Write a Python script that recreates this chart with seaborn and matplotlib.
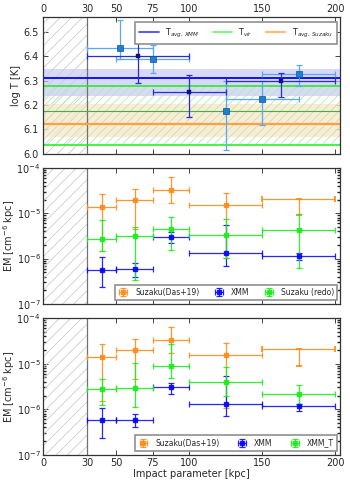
import numpy as np
import pandas as pd
import matplotlib
matplotlib.use("Agg")
import matplotlib.pyplot as plt
import seaborn as sns

# ---------------- data ----------------
# top panel: temperatures
xmm_x = [65, 100, 162.5]
xmm_xlo = [30, 75, 125]
xmm_xhi = [100, 125, 200]
xmm_T = [6.400, 6.253, 6.297]
xmm_Tlo = [6.290, 6.153, 6.233]
xmm_Thi = [6.520, 6.322, 6.332]

lb_x = [52.5, 75, 125, 150, 175]
lb_xlo = [30, 50, 125, 125, 150]
lb_xhi = [75, 100, 125, 175, 200]
lb_T = [6.433, 6.387, 6.174, 6.225, 6.326]
lb_Tlo = [6.390, 6.332, 6.016, 6.119, 6.279]
lb_Thi = [6.548, 6.445, 6.300, 6.300, 6.364]

T_avg_xmm = 6.312
T_avg_xmm_band = (6.235, 6.349)
T_vir_lines = (6.038, 6.278)
T_vir_mid = 6.174
T_avg_suz = 6.123
T_avg_suz_band = (6.068, 6.205)

# EM panels
em_x = [40, 62.5, 87.5, 125, 175]
em_xlo = [30, 50, 75, 100, 150]
em_xhi = [50, 75, 100, 150, 200]

suz_em = [1.38e-5, 1.97e-5, 3.33e-5, 1.53e-5, 2.1e-5]
suz_lo = [1.5e-6, 4.5e-6, 1.72e-5, 1.05e-6, 9.0e-6]
suz_hi = [2.63e-5, 3.38e-5, 6.2e-5, 2.85e-5, 2.1e-5]

xmm_em = [5.7e-7, 5.9e-7, 3.0e-6, 1.33e-6, 1.15e-6]
xmm_lo = [2.4e-7, 4.0e-7, 2.2e-6, 7.0e-7, 9.3e-7]
xmm_hi = [1.07e-6, 7.9e-7, 3.8e-6, 5.4e-6, 1.32e-6]

redo_em = [2.67e-6, 3.2e-6, 4.43e-6, 3.27e-6, 4.28e-6]
redo_lo = [1.45e-6, 3.4e-7, 1.55e-6, 1.05e-6, 6.1e-7]
redo_hi = [7.0e-6, 5.1e-6, 8.2e-6, 7.4e-6, 9.8e-6]

xmmT_em = [2.79e-6, 2.88e-6, 8.75e-6, 4.03e-6, 2.13e-6]
xmmT_lo = [1.25e-6, 1.1e-6, 4.8e-6, 2.0e-6, 1.29e-6]
xmmT_hi = [4.6e-6, 1.02e-5, 2.65e-5, 8.3e-6, 3.36e-6]

xticks = [0, 30, 50, 75, 100, 150, 200]
em_ticks = [1e-7, 1e-6, 1e-5, 1e-4]
em_ticklabels = [r"10$^{-7}$", r"10$^{-6}$", r"10$^{-5}$", r"10$^{-4}$"]

# ---------------- style ----------------
sns.set_theme(style="ticks")
plt.rcParams.update({
    "font.family": ["DejaVu Sans"],
    "font.size": 6.5,
    "xtick.direction": "in",
    "ytick.direction": "in",
    "xtick.top": True,
    "ytick.right": True,
    "xtick.major.size": 3.5,
    "ytick.major.size": 3.5,
    "xtick.minor.size": 2,
    "ytick.minor.size": 2,
    "xtick.major.width": 0.6,
    "ytick.major.width": 0.6,
    "axes.linewidth": 0.9,
    "axes.edgecolor": "#333333",
    "hatch.linewidth": 0.6,
    "xtick.labelsize": 7,
    "ytick.labelsize": 7,
    "mathtext.default": "regular",
})

C_ORANGE = "#ff8c1a"
C_BLUE = "#0000ff"
C_GREEN = "#1aee1a"
C_LB = "#5aa8f5"
C_DB = "#2a2ad8"

fig = plt.figure(figsize=(3.5, 4.87), dpi=100)
L, W = 0.124, 0.847
ax1 = fig.add_axes([L, 0.684, W, 0.281])
ax2 = fig.add_axes([L, 0.376, W, 0.279])
ax3 = fig.add_axes([L, 0.066, W, 0.281])
XMAX = 203

def asym(v, lo, hi):
    v = np.asarray(v, float)
    return [v - np.asarray(lo, float), np.asarray(hi, float) - v]

def excl(ax):
    ax.axvspan(0, 30, facecolor="none", edgecolor="#cccccc", hatch="///", lw=0)
    ax.axvline(30, color="#707070", lw=0.9)
    ax.set_xlim(0, XMAX)
    ax.set_xticks(xticks)

# ---------------- top panel ----------------
excl(ax1)
ax1.axhspan(*T_avg_xmm_band, color="#c8c8f5", alpha=0.7, lw=0)
ax1.axhspan(*T_avg_suz_band, color="#fde6cf", alpha=0.8, lw=0)
ax1.axhspan(T_vir_lines[0], T_vir_lines[1], facecolor="none", edgecolor="#b0eca8",
            hatch="////", lw=0)
ax1.axhline(T_avg_xmm, color=C_BLUE, lw=1.3, label=r"T$_{\mathit{avg,\,XMM}}$")
ax1.axhline(T_vir_lines[1], color=C_GREEN, lw=1.1, label=r"T$_{\mathit{vir}}$")
ax1.axhline(T_vir_lines[0], color=C_GREEN, lw=1.1)
ax1.axhline(T_vir_mid, color="#40b040", lw=0.8)
ax1.axhline(T_avg_suz, color="#ffa040", lw=1.6, label=r"T$_{\mathit{avg,\,Suzaku}}$")

ax1.errorbar(lb_x, lb_T, yerr=asym(lb_T, lb_Tlo, lb_Thi),
             xerr=asym(lb_x, lb_xlo, lb_xhi), fmt="none", ecolor=C_LB,
             elinewidth=0.9, capsize=2, capthick=0.9)
ax1.errorbar(xmm_x, xmm_T, yerr=asym(xmm_T, xmm_Tlo, xmm_Thi),
             xerr=asym(xmm_x, xmm_xlo, xmm_xhi), fmt="none", ecolor=C_DB,
             elinewidth=0.9, capsize=2, capthick=0.9)
sns.scatterplot(x=lb_x, y=lb_T, ax=ax1, marker="s", s=14, color="#2080d0",
                edgecolor="#1050a0", linewidth=0.5, zorder=5, legend=False)
sns.scatterplot(x=xmm_x, y=xmm_T, ax=ax1, marker="s", s=6, color="#101080",
                edgecolor="#101080", linewidth=0.3, zorder=5, legend=False)

ax1.set_ylim(6.0, 6.56)
ax1.set_yticks([6.0, 6.1, 6.2, 6.3, 6.4, 6.5])
ax1.set_yticklabels(["6.0", "6.1", "6.2", "6.3", "6.4", "6.5"])
ax1.xaxis.set_label_position("top")
ax1.tick_params(axis="x", labeltop=True, labelbottom=False, pad=2)
ax1.set_ylabel("log T [K]", fontsize=7)
ax1.yaxis.set_label_coords(-0.075, 0.5)
leg1 = ax1.legend(loc="upper right", ncol=3, fontsize=5.8, frameon=True,
                  fancybox=False, edgecolor="#909090", framealpha=1,
                  handlelength=2.4, columnspacing=1.6, borderpad=0.5,
                  bbox_to_anchor=(0.995, 0.975), borderaxespad=0.2)
leg1.get_frame().set_linewidth(1.2)
for h in leg1.get_lines():
    h.set_alpha(0.7)

# ---------------- EM panels ----------------
def em_panel(ax, green_em, green_lo, green_hi, green_label):
    excl(ax)
    e1 = ax.errorbar(em_x[:4], suz_em[:4], yerr=asym(suz_em[:4], suz_lo[:4], suz_hi[:4]),
                     xerr=asym(em_x[:4], em_xlo[:4], em_xhi[:4]), fmt="s", ms=2.8,
                     color=C_ORANGE, ecolor=C_ORANGE, elinewidth=0.9, capsize=2,
                     capthick=0.9, label="Suzaku(Das+19)", alpha=0.9)
    ax.errorbar(em_x[4:], suz_em[4:], yerr=asym(suz_em[4:], suz_lo[4:], suz_hi[4:]),
                xerr=asym(em_x[4:], em_xlo[4:], em_xhi[4:]), fmt="none",
                ecolor=C_ORANGE, elinewidth=0.9, capsize=2, capthick=1.4, alpha=0.9)
    e2 = ax.errorbar(em_x, xmm_em, yerr=asym(xmm_em, xmm_lo, xmm_hi),
                     xerr=asym(em_x, em_xlo, em_xhi), fmt="s", ms=2.8,
                     color=C_BLUE, ecolor=C_BLUE, elinewidth=0.9, capsize=2,
                     capthick=0.9, label="XMM", alpha=0.85)
    e3 = ax.errorbar(em_x, green_em, yerr=asym(green_em, green_lo, green_hi),
                     xerr=asym(em_x, em_xlo, em_xhi), fmt="s", ms=2.8,
                     color=C_GREEN, ecolor=C_GREEN, elinewidth=0.9, capsize=2,
                     capthick=0.9, label=green_label, alpha=0.9)
    ax.set_yscale("log")
    ax.set_ylim(1e-7, 1e-4)
    ax.set_yticks(em_ticks)
    ax.set_yticklabels(em_ticklabels)
    ax.tick_params(axis="y", pad=2)
    ax.set_ylabel(r"EM [cm$^{-6}$ kpc]", fontsize=7)
    ax.yaxis.set_label_coords(-0.088, 0.5)
    return [e1, e2, e3]

h2 = em_panel(ax2, redo_em, redo_lo, redo_hi, "Suzaku (redo)")
ax2.tick_params(axis="x", labelbottom=False, labeltop=False)
leg2 = ax2.legend(handles=h2, loc="lower right", ncol=3, fontsize=5.5,
                  frameon=True, fancybox=False, edgecolor="#909090", framealpha=1,
                  handlelength=1.5, columnspacing=1.8, borderpad=0.4,
                  bbox_to_anchor=(0.995, 0.02), borderaxespad=0.2)
leg2.get_frame().set_linewidth(1.2)

h3 = em_panel(ax3, xmmT_em, xmmT_lo, xmmT_hi, "XMM_T")
ax3.tick_params(axis="x", labelbottom=True, pad=2)
ax3.set_xlabel("Impact parameter [kpc]", fontsize=7, labelpad=1)
leg3 = ax3.legend(handles=h3, loc="lower right", ncol=3, fontsize=5.5,
                  frameon=True, fancybox=False, edgecolor="#909090", framealpha=1,
                  handlelength=1.5, columnspacing=2.2, borderpad=0.4,
                  bbox_to_anchor=(0.995, 0.02), borderaxespad=0.2)
leg3.get_frame().set_linewidth(1.2)

for ax in (ax1, ax2, ax3):
    for sp in ax.spines.values():
        sp.set_visible(True)

fig.savefig("out.png", dpi=100)
